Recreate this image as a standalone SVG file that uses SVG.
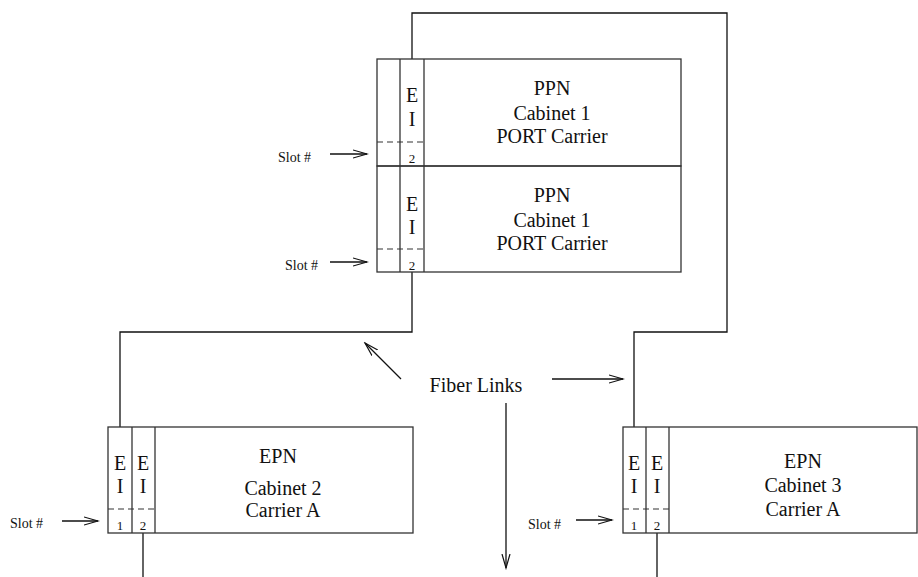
<svg xmlns="http://www.w3.org/2000/svg" width="918" height="577" viewBox="0 0 918 577">
<style>
.box{fill:none;stroke:#333;stroke-width:1.3}
.dash{fill:none;stroke:#333;stroke-width:1.2;stroke-dasharray:6,4}
.line{fill:none;stroke:#111;stroke-width:1.3}
.t{font-family:"Liberation Serif",serif;font-size:20px;fill:#111;text-anchor:middle}
.n{font-family:"Liberation Serif",serif;font-size:13px;fill:#111;text-anchor:middle}
.s{font-family:"Liberation Serif",serif;font-size:14px;fill:#111}
</style>
<defs>
<marker id="ah" markerUnits="userSpaceOnUse" markerWidth="16" markerHeight="12" refX="14" refY="5" orient="auto" viewBox="0 0 16 10">
<path d="M0,1 L14,5 L0,9" fill="none" stroke="#111" stroke-width="1.2"/>
</marker>
</defs>
<g id="connectors">
<polyline class="line" points="412,59 412,13 727,13 727,332 634,332 634,427"/>
<polyline class="line" points="412,272 412,332 120,332 120,427"/>
<line class="line" x1="143" y1="533" x2="143" y2="577"/>
<line class="line" x1="657" y1="533" x2="657" y2="577"/>
<line class="line" x1="401" y1="379" x2="365" y2="343" marker-end="url(#ah)"/>
<line class="line" x1="552" y1="379" x2="623" y2="379" marker-end="url(#ah)"/>
<line class="line" x1="506" y1="403" x2="506" y2="568" marker-end="url(#ah)"/>
<line class="line" x1="330" y1="154" x2="367" y2="154" marker-end="url(#ah)"/>
<line class="line" x1="330" y1="262" x2="367" y2="262" marker-end="url(#ah)"/>
<line class="line" x1="62" y1="521" x2="98" y2="521" marker-end="url(#ah)"/>
<line class="line" x1="576" y1="520" x2="612" y2="520" marker-end="url(#ah)"/>
</g>
<g id="fiber-label">
<text class="t" x="476" y="392">Fiber Links</text>
</g>
<g id="ppn1">
<rect class="box" x="377" y="59" width="304" height="107"/>
<line class="box" x1="400" y1="59" x2="400" y2="166"/>
<line class="box" x1="424" y1="59" x2="424" y2="166"/>
<line class="dash" x1="377" y1="142" x2="424" y2="142"/>
<text class="t" x="412" y="102">E</text>
<text class="t" x="412" y="126">I</text>
<text class="n" x="412" y="163">2</text>
<text class="t" x="552" y="95">PPN</text>
<text class="t" x="552" y="120">Cabinet 1</text>
<text class="t" x="552" y="143">PORT Carrier</text>
<text class="s" x="278" y="162">Slot #</text>
</g>
<g id="ppn2">
<rect class="box" x="377" y="166" width="304" height="106"/>
<line class="box" x1="400" y1="166" x2="400" y2="272"/>
<line class="box" x1="424" y1="166" x2="424" y2="272"/>
<line class="dash" x1="377" y1="249" x2="424" y2="249"/>
<text class="t" x="412" y="211">E</text>
<text class="t" x="412" y="234">I</text>
<text class="n" x="412" y="270">2</text>
<text class="t" x="552" y="202">PPN</text>
<text class="t" x="552" y="227">Cabinet 1</text>
<text class="t" x="552" y="250">PORT Carrier</text>
<text class="s" x="285" y="270">Slot #</text>
</g>
<g id="epn2">
<rect class="box" x="108" y="427" width="305" height="106"/>
<line class="box" x1="132" y1="427" x2="132" y2="533"/>
<line class="box" x1="155" y1="427" x2="155" y2="533"/>
<line class="dash" x1="108" y1="509" x2="155" y2="509"/>
<text class="t" x="120" y="470">E</text>
<text class="t" x="120" y="493">I</text>
<text class="t" x="143" y="470">E</text>
<text class="t" x="143" y="493">I</text>
<text class="n" x="120" y="530">1</text>
<text class="n" x="143" y="530">2</text>
<text class="t" x="278" y="463">EPN</text>
<text class="t" x="283" y="495">Cabinet 2</text>
<text class="t" x="283" y="517">Carrier A</text>
<text class="s" x="10" y="528">Slot #</text>
</g>
<g id="epn3">
<rect class="box" x="623" y="427" width="294" height="106"/>
<line class="box" x1="646" y1="427" x2="646" y2="533"/>
<line class="box" x1="669" y1="427" x2="669" y2="533"/>
<line class="dash" x1="623" y1="509" x2="669" y2="509"/>
<text class="t" x="634" y="470">E</text>
<text class="t" x="634" y="493">I</text>
<text class="t" x="657" y="470">E</text>
<text class="t" x="657" y="493">I</text>
<text class="n" x="634" y="530">1</text>
<text class="n" x="657" y="530">2</text>
<text class="t" x="803" y="468">EPN</text>
<text class="t" x="803" y="492">Cabinet 3</text>
<text class="t" x="803" y="516">Carrier A</text>
<text class="s" x="528" y="529">Slot #</text>
</g>
</svg>
